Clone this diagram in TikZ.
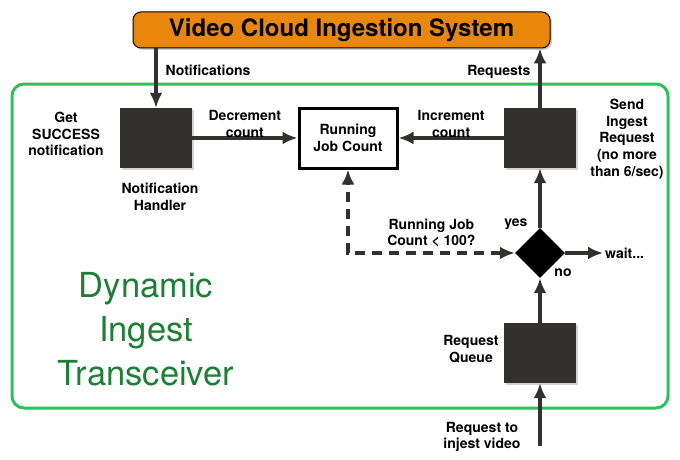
\documentclass[tikz,border=0pt]{standalone}
\usepackage{fontspec}
\setmainfont{TeX Gyre Heros}
\usetikzlibrary{arrows.meta,shapes.geometric,shadows}

\definecolor{laranja}{RGB}{232,135,10}
\definecolor{verde}{RGB}{40,196,90}
\definecolor{verdeescuro}{RGB}{28,128,52}
\definecolor{cinza}{RGB}{51,48,48}

\begin{document}
\begin{tikzpicture}[>={Latex[length=15pt,width=13pt]},x=1pt,y=-1pt,
	caixa/.style={fill=cinza,minimum width=72pt,minimum height=60pt,inner sep=0pt,
		drop shadow={opacity=.35,shadow xshift=2pt,shadow yshift=-2pt}},
	rotulo/.style={font=\fontsize{14}{16.7}\selectfont\bfseries,align=center,inner sep=2pt},
	seta/.style={->,line width=3.2pt,draw=cinza}]
	\useasboundingbox (0,0) rectangle (680,460);
	%moldura verde
	\node[draw=verde,line width=3pt,rounded corners=12pt,minimum width=656pt,
		minimum height=324pt] (transceptor) at (340,246) {};
	\node[font=\fontsize{34.5}{44}\selectfont,text=verdeescuro,align=center] (nome) at (146,329)
		{Dynamic\\Ingest\\Transceiver};
	%sistema externo
	\node[fill=laranja,draw=black,line width=1pt,rounded corners=8pt,minimum width=417pt,
		minimum height=36pt,font=\fontsize{24}{26}\selectfont\bfseries,
		drop shadow={opacity=.4,shadow xshift=2pt,shadow yshift=-2pt}] (sistema) at (341.5,30)
		{Video Cloud Ingestion System};
	%caixas
	\node[caixa] (notif) at (156,138) {};
	\node[caixa] (envio) at (540,138) {};
	\node[caixa] (fila) at (540,353) {};
	\node[rotulo,fill=white,draw=black,line width=3pt,minimum width=98pt,minimum height=60pt,
		drop shadow={opacity=.35,shadow xshift=2pt,shadow yshift=-2pt}] (contagem) at (348,138)
		{Running\\Job Count};
	\node[diamond,fill=black,minimum width=50pt,minimum height=50pt,inner sep=0pt] (decisao)
		at (540,253) {};
	%rotulos soltos
	\node[rotulo] (sucesso) at (66,134) {Get\\SUCCESS\\notification};
	\node[rotulo] (manipulador) at (160,197) {Notification\\Handler};
	\node[rotulo] (enviar) at (627,139) {Send\\Ingest\\Request\\(no more\\than 6/sec)};
	\node[rotulo] (filatxt) at (471,349) {Request\\Queue};
	\node[rotulo] (pedido) at (482,437) {Request to\\injest video};
	\node[rotulo] (nao) at (563,273) {no};
	\node[rotulo,anchor=west] (espera) at (603,253) {wait...};
	\coordinate (entrada) at (540,446);
	%setas
	\draw[seta] (notif |- sistema.south) -- node[rotulo,pos=.37,right=6pt] {Notifications}
		(notif.north);
	\draw[seta] (envio.north) -- node[rotulo,pos=.6,left=6pt] {Requests} (envio |- sistema.south);
	\draw[seta] (notif) -- node[rotulo,above=-3pt] {Decrement\\count} (contagem);
	\draw[seta] (envio) -- node[rotulo,above=-3pt] {Increment\\count} (contagem);
	\draw[seta,<->,dash pattern=on 10pt off 7pt] (decisao.west) -| node[rotulo,pos=.25,above=2pt]
		{Running Job\\Count < 100?} (contagem.south);
	\draw[seta] (decisao.north) -- node[rotulo,pos=.06,left=9pt] {yes} (envio.south);
	\draw[seta] (decisao.east) -- (espera.west);
	\draw[seta] (fila) -- (decisao);
	\draw[seta] (entrada) -- (fila);
\end{tikzpicture}
\end{document}
